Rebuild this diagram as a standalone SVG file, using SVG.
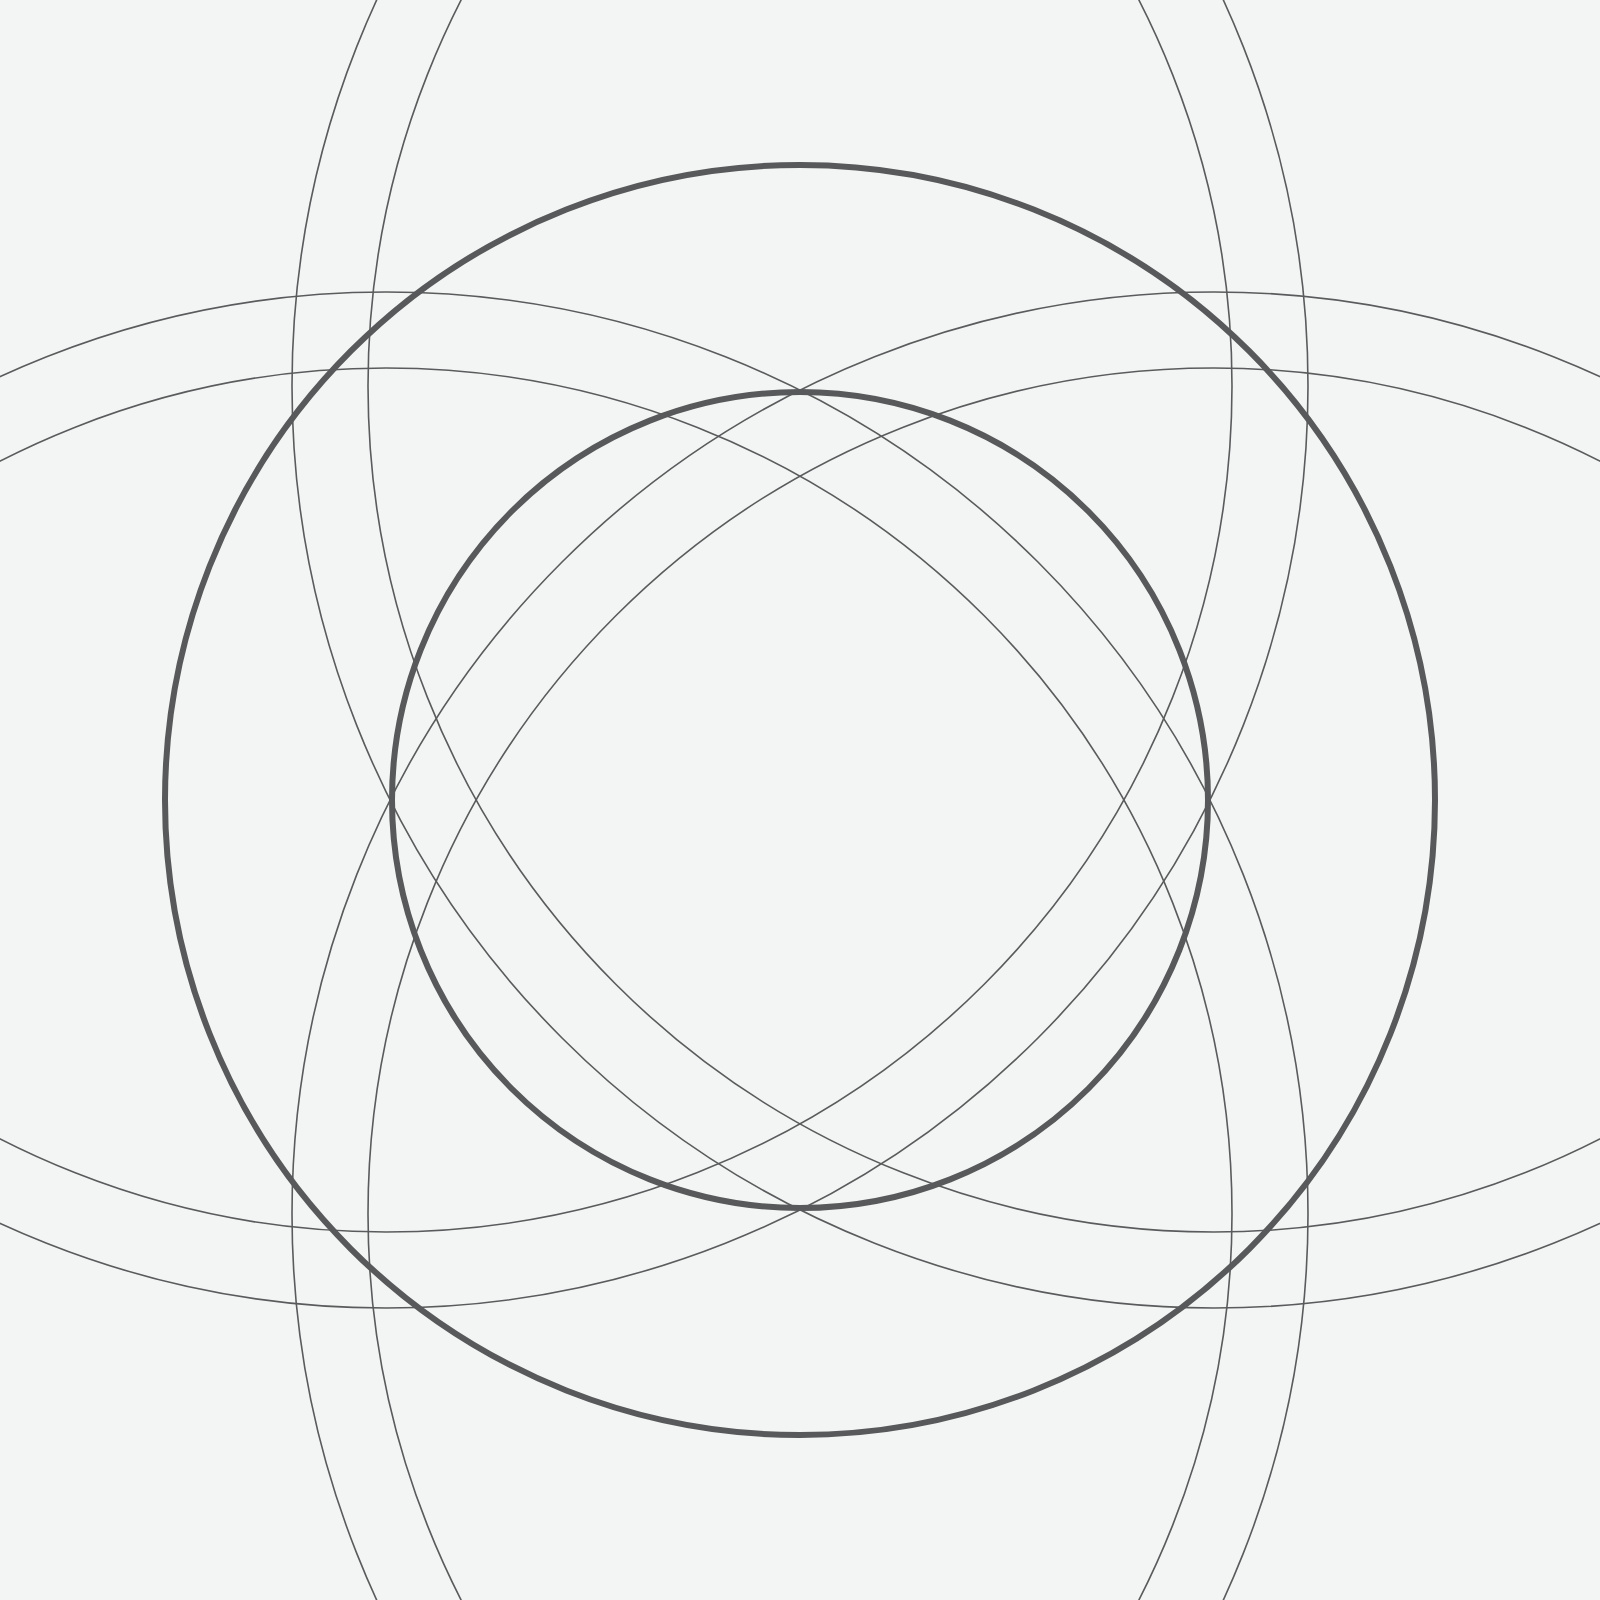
<svg xmlns="http://www.w3.org/2000/svg" width="1600" height="1600" viewBox="0 0 1600 1600">
<style>
.thin{fill:none;stroke:#5a5b5c;stroke-width:1.6}
.thick{fill:none;stroke:#58595a;stroke-width:6}
</style>
<rect width="1600" height="1600" fill="#f3f5f4"/>
<g id="thin-circles">
<circle class="thin" cx="386" cy="386" r="922"/>
<circle class="thin" cx="1214" cy="386" r="922"/>
<circle class="thin" cx="386" cy="1214" r="922"/>
<circle class="thin" cx="1214" cy="1214" r="922"/>
<circle class="thin" cx="386" cy="386" r="846"/>
<circle class="thin" cx="1214" cy="386" r="846"/>
<circle class="thin" cx="386" cy="1214" r="846"/>
<circle class="thin" cx="1214" cy="1214" r="846"/>
</g>
<g id="big-circle"><circle class="thick" cx="800" cy="800" r="635"/></g>
<g id="small-circle"><circle class="thick" cx="800" cy="800" r="408"/></g>
</svg>
